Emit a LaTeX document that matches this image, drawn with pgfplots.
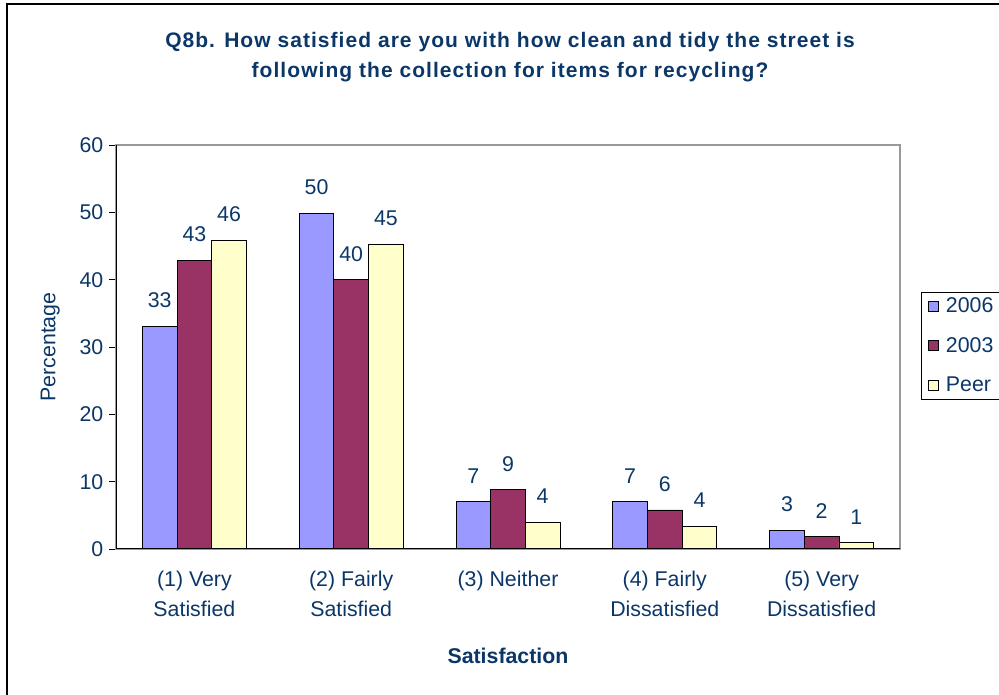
\documentclass[border=0pt]{standalone}
\usepackage{pgfplots}
\pgfplotsset{compat=1.18}
\usepackage{fontspec}
\setmainfont{Liberation Sans}
\definecolor{navy}{HTML}{0B3768}
\definecolor{c06}{HTML}{9999FF}
\definecolor{c03}{HTML}{993366}
\definecolor{cpeer}{HTML}{FFFFCC}
\newcommand{\fs}{\fontsize{16}{22.5}\selectfont}
\begin{document}
\begin{tikzpicture}
\useasboundingbox (0,0) rectangle (749.25pt,521.25pt);
% outer frame
\draw[black,line width=0.8pt] (5.25pt,-15pt) -- (5.25pt,518.25pt) -- (765pt,518.25pt);
% title
\node[font=\fontsize{15.75}{18}\selectfont\bfseries\addfontfeature{LetterSpace=5},text=navy,align=center,anchor=center] at (382.5pt,478.5pt)
  {Q8b. How satisfied are you with how clean and tidy the street is\\[5pt]following the collection for items for recycling?};
\begin{axis}[
  at={(87pt,109.5pt)}, anchor=south west,
  scale only axis, width=588pt, height=303pt,
  ybar=0pt, bar width=26pt,
  ymin=0, ymax=60, ytick={0,10,...,60},
  xmin=-0.5, xmax=4.5,
  xtick={0,1,2,3,4},
  xticklabels={{(1) Very\\Satisfied},{(2) Fairly\\Satisfied},{(3) Neither},{(4) Fairly\\Dissatisfied},{(5) Very\\Dissatisfied}},
  xticklabel style={align=center,font=\fs,text=navy,yshift=-8pt},
  major x tick style={draw=none},
  extra x ticks={-0.5,0.5,1.5,2.5,3.5,4.5},
  extra x tick labels={},
  extra x tick style={major tick length=5pt, tick style={black,line width=0.6pt}, xtick pos=bottom},
  tick align=outside, xtick pos=bottom, ytick pos=left,
  major tick length=5pt,
  ytick style={black,line width=0.6pt},
  /pgf/number format/assume math mode=true,
  yticklabel style={font=\fs,text=navy,xshift=-1pt},
  axis line style={draw=gray!80,line width=0.8pt},
  xlabel={\bfseries Satisfaction},
  xlabel style={font=\fs,text=navy,yshift=-7pt},
  ylabel={Percentage},
  ylabel style={font=\fs,text=navy,yshift=8pt},
  nodes near coords,
  point meta=explicit symbolic,
  every node near coord/.append style={font=\fs,text=navy,anchor=south,yshift=10pt},
  legend style={at={(rel axis cs:1.027,0.636)},anchor=north west,draw=black,line width=0.6pt,font=\fs,text=navy,row sep=13pt,inner xsep=5pt,inner ysep=2pt,column sep=3pt},
  legend cell align=left,
  legend image code/.code={\draw[#1,line width=0.8pt] (0pt,-3.75pt) rectangle (7.5pt,3.75pt);},
]
\addplot[fill=c06,draw=black,line width=0.6pt,bar shift=-26pt] coordinates {(0,33.1)[33] (1,49.9)[50] (2,7.0)[7] (3,7.0)[7] (4,2.8)[3]};
\addplot[fill=c03,draw=black,line width=0.6pt,bar shift=0pt] coordinates {(0,42.9)[43] (1,40.0)[40] (2,8.8)[9] (3,5.8)[6] (4,1.9)[2]};
\addplot[fill=cpeer,draw=black,line width=0.6pt,bar shift=26pt] coordinates {(0,45.9)[46] (1,45.3)[45] (2,4.0)[4] (3,3.4)[4] (4,1.0)[1]};
\legend{2006,2003,Peer}
\draw[black,line width=0.8pt] (rel axis cs:0,1) -- (rel axis cs:0,0) -- (rel axis cs:1,0);
\end{axis}
\end{tikzpicture}
\end{document}
